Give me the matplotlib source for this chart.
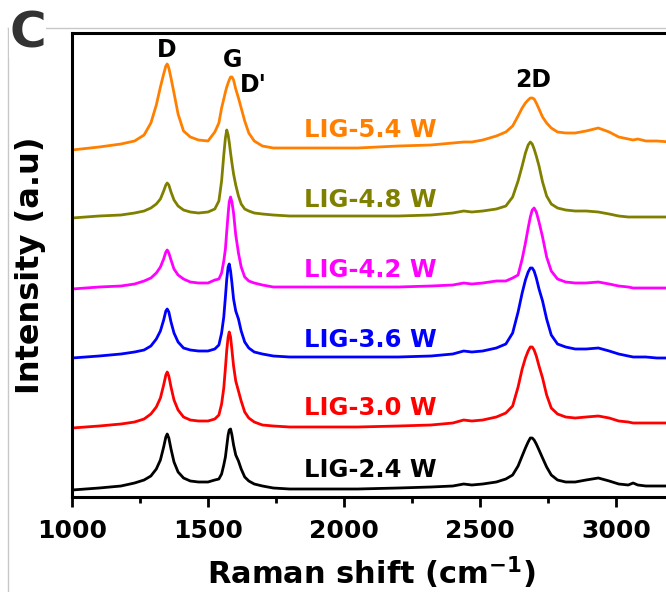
import matplotlib
matplotlib.use("Agg")
import matplotlib.pyplot as plt
from matplotlib.lines import Line2D
from matplotlib.ticker import MultipleLocator

plt.rcParams['font.family'] = ['DejaVu Sans']
plt.rcParams['font.weight'] = 'bold'

# Raman shift grid (cm^-1)
shift = [1000, 1100, 1180, 1230, 1265, 1290, 1310, 1325, 1337, 1345, 1350, 1356, 1364, 1375, 1390,
         1410, 1435, 1465, 1500, 1525,
         1540, 1550, 1558, 1564, 1569, 1574, 1578, 1583, 1588, 1594, 1602, 1612, 1622, 1635, 1650,
         1670, 1700, 1740, 1800,
         1900, 2050, 2200, 2320, 2400, 2440, 2470, 2510, 2560,
         2595, 2620, 2640, 2655, 2667, 2677, 2685, 2692, 2699, 2707, 2717, 2730, 2745, 2762, 2785,
         2815, 2850, 2890, 2935, 2975, 3010, 3045, 3063, 3080, 3110, 3150, 3200]

# stacked intensities (a.u.)
lig_2_4 = [7, 9, 11, 14, 17, 21, 28, 37, 50, 60, 63, 59, 48, 35, 25, 19, 16, 15, 15, 17,
           18, 23, 32, 40, 51, 62, 67, 68, 62, 52, 42, 36, 28, 20, 16, 13, 11, 9, 8,
           8, 8, 9, 10, 11, 13, 12, 13, 15,
           18, 22, 31, 41, 49, 55, 59, 59, 57, 53, 47, 39, 30, 22, 17, 15, 15, 17, 19, 16, 13,
           12, 14, 12, 11, 11, 11]
lig_3_0 = [69, 71, 73, 75, 78, 83, 90, 99, 112, 122, 125, 121, 110, 97, 87, 80, 77, 76, 76, 78,
           82, 93, 109, 129, 147, 160, 165, 160, 147, 131, 116, 106, 96, 85, 79, 75, 72, 71, 70,
           70, 70, 71, 72, 74, 77, 76, 77, 80,
           84, 91, 110, 128, 139, 146, 150, 150, 147, 141, 131, 119, 102, 89, 83, 80, 79, 80, 81,
           79, 76, 75, 74, 74, 74, 74, 74]
lig_3_6 = [139, 141, 143, 145, 147, 151, 158, 166, 177, 186, 188, 185, 175, 164, 155, 149, 147,
           146, 146, 148,
           152, 164, 180, 200, 218, 230, 233, 226, 214, 198, 186, 178, 166, 155, 149, 145, 143,
           141, 140,
           140, 140, 140, 141, 143, 146, 145, 146, 149,
           153, 164, 185, 204, 217, 225, 229, 229, 226, 219, 208, 196, 178, 162, 153, 150, 148,
           148, 149, 146, 143, 141, 140, 140, 140, 139, 139]
lig_4_2 = [208, 210, 211, 213, 216, 219, 224, 230, 238, 245, 247, 244, 237, 228, 222, 218, 215,
           214, 214, 217,
           218, 224, 236, 248, 266, 283, 295, 300, 295, 284, 262, 244, 230, 220, 216, 214, 212,
           210, 210,
           210, 210, 210, 211, 212, 214, 213, 214, 216,
           216, 219, 222, 238, 254, 269, 280, 287, 289, 285, 275, 260, 240, 226, 218, 215, 214,
           214, 215, 213, 211, 210, 209, 209, 209, 209, 209]
lig_4_8 = [279, 281, 282, 284, 286, 289, 293, 298, 306, 312, 314, 312, 305, 297, 291, 287, 285,
           284, 285, 288,
           296, 316, 342, 359, 367, 362, 355, 344, 334, 323, 312, 301, 293, 288, 286, 284, 283,
           282, 281,
           281, 281, 281, 282, 284, 286, 285, 286, 288,
           291, 300, 316, 331, 344, 352, 355, 353, 348, 341, 331, 315, 301, 293, 289, 287, 286,
           286, 285, 283, 281, 280, 280, 280, 280, 280, 280]
lig_5_4 = [347, 350, 353, 356, 362, 374, 392, 410, 423, 431, 433, 429, 419, 404, 383, 366, 360,
           357, 356, 365,
           374, 389, 398, 405, 410, 414, 417, 420, 420, 417, 408, 399, 389, 376, 364, 356, 351,
           349, 349,
           349, 349, 351, 352, 354, 355, 355, 357, 361,
           365, 371, 381, 389, 394, 397, 399, 399, 398, 394, 388, 380, 374, 369, 365, 364, 364,
           366, 369, 365, 360, 358, 357, 358, 356, 356, 355]

series = [lig_2_4, lig_3_0, lig_3_6, lig_4_2, lig_4_8, lig_5_4]
labels = ['LIG-2.4 W', 'LIG-3.0 W', 'LIG-3.6 W', 'LIG-4.2 W', 'LIG-4.8 W', 'LIG-5.4 W']
colors = ['#000000', '#ff0000', '#0000ff', '#ff00ff', '#808000', '#ff8000']
label_y = [27, 89, 157, 227, 297, 367]

peak_names = ['D', 'G', "D'", '2D']
peak_x = [1349, 1592, 1665, 2695]
peak_y = [447, 437, 412, 417]

W, H = 666, 592
fig = plt.figure(figsize=(W / 100, H / 100), dpi=100)
ax = fig.add_axes([72 / W, (H - 497) / H, (670.4 - 72) / W, (497 - 33) / H])

for y, c in zip(series, colors):
    ax.plot(shift, y, color=c, lw=2.0, solid_joinstyle='round', solid_capstyle='round')

for lab, c, ly in zip(labels, colors, label_y):
    ax.text(2096, ly, lab, color=c, fontsize=17.5, fontweight='bold', ha='center', va='center')

for n, px, py in zip(peak_names, peak_x, peak_y):
    ax.text(px, py, n, color='black', fontsize=17, fontweight='bold', ha='center', va='center')

ax.set_xlim(1000, 3200)
ax.set_ylim(0, 464)
ax.set_yticks([])
ax.xaxis.set_major_locator(MultipleLocator(500))
ax.xaxis.set_minor_locator(MultipleLocator(250))
ax.tick_params(axis='x', which='major', length=7, width=2, direction='out', labelsize=18, pad=9)
ax.tick_params(axis='x', which='minor', length=4, width=2, direction='out')
for lab in ax.get_xticklabels():
    lab.set_fontweight('bold')
for s in ['left', 'bottom', 'top', 'right']:
    ax.spines[s].set_linewidth(2.2)

ax.set_xlabel('Raman shift (cm$^{\\mathbf{-1}}$)', fontsize=22, fontweight='bold', labelpad=8)
ax.set_ylabel('Intensity (a.u)', fontsize=23, fontweight='bold', labelpad=19)

# light gray frame of the panel
fig.add_artist(Line2D([8 / W, 8 / W], [0, 1 - 28 / H], color='#c8c8c8', lw=1, transform=fig.transFigure))
fig.add_artist(Line2D([8 / W, 1], [1 - 28 / H, 1 - 28 / H], color='#c8c8c8', lw=1, transform=fig.transFigure))

fig.text(9 / W, 1 - 48 / H, 'C', fontsize=36, fontweight='bold', color='#333333',
         ha='left', va='baseline',
         bbox=dict(facecolor='white', edgecolor='none', pad=0))

fig.savefig('out.png', dpi=100)
